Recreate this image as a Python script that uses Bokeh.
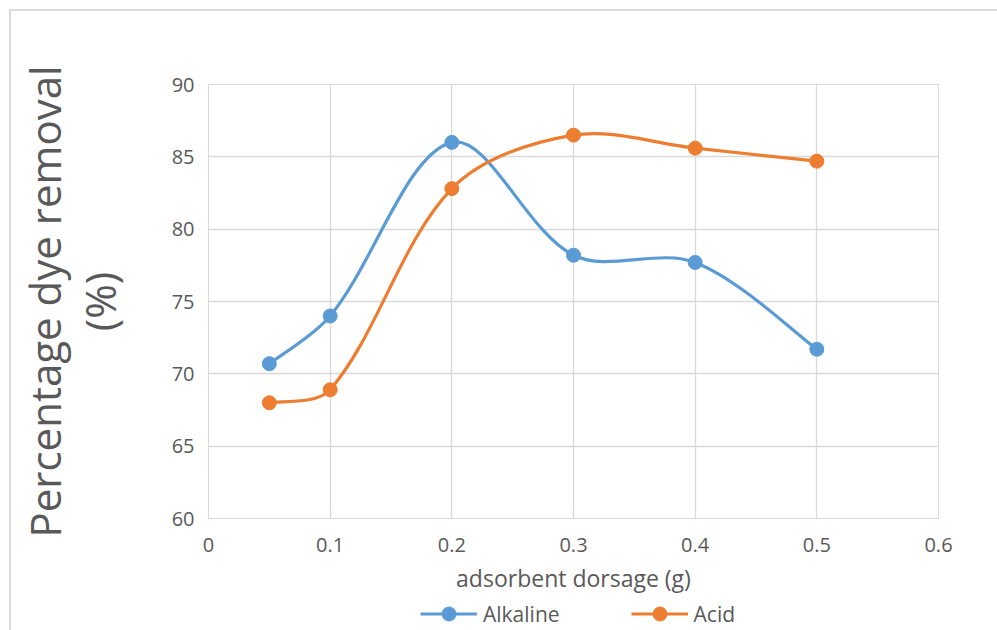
from bokeh.plotting import figure
from bokeh.models import FixedTicker, Legend, LegendItem, LinearAxis
from bokeh.layouts import column
from bokeh.embed import file_html
from bokeh.resources import INLINE

# ---- data ----
dosage = [0.05, 0.1, 0.2, 0.3, 0.4, 0.5]
alkaline = [70.7, 74.0, 86.0, 78.2, 77.7, 71.7]
acid = [68.0, 68.9, 82.8, 86.5, 85.6, 84.7]
x_ticks = [0, 0.1, 0.2, 0.3, 0.4, 0.5, 0.6]
x_tick_labels = ["0", "0.1", "0.2", "0.3", "0.4", "0.5", "0.6"]
y_ticks = [60, 65, 70, 75, 80, 85, 90]
series_names = ["Alkaline", "Acid"]

BLUE = "#5B9BD5"
ORANGE = "#ED7D31"
TEXT = "#595959"
GRID = "#d9d9d9"
FONT = "Open Sans"

X0, X1, Y0, Y1 = 0, 0.6, 60, 90
FW, FH = 730, 434

p = figure(frame_width=FW, frame_height=FH, x_range=(X0, X1), y_range=(Y0, Y1),
           output_backend="svg", toolbar_location=None,
           min_border_left=197, min_border_top=73, min_border_right=59,
           min_border_bottom=77)
p.background_fill_color = "white"
p.border_fill_color = "white"
p.outline_line_color = GRID

for ax in (p.xaxis[0], p.yaxis[0]):
    ax.axis_line_color = GRID
    ax.major_tick_line_color = None
    ax.minor_tick_line_color = None
    ax.major_tick_out = 0
    ax.major_tick_in = 0
    ax.major_label_text_color = TEXT
    ax.major_label_text_font = FONT
    ax.major_label_text_font_size = "20px"
    ax.axis_label_text_color = TEXT
    ax.axis_label_text_font = FONT
    ax.axis_label_text_font_style = "normal"

p.xaxis[0].ticker = FixedTicker(ticks=x_ticks)
p.xaxis[0].major_label_overrides = {t: l for t, l in zip(x_ticks, x_tick_labels)}
p.xaxis[0].major_label_standoff = 19
p.xaxis[0].axis_label = "adsorbent dorsage (g)"
p.xaxis[0].axis_label_text_font_size = "23px"
p.xaxis[0].axis_label_standoff = 7

p.yaxis[0].ticker = FixedTicker(ticks=y_ticks)
p.yaxis[0].major_label_standoff = 14
p.yaxis[0].axis_label = "(%)"
p.yaxis[0].axis_label_text_font_size = "42px"
p.yaxis[0].axis_label_standoff = 41

ya2 = LinearAxis(ticker=FixedTicker(ticks=[]), axis_line_color=None,
                 major_tick_line_color=None, minor_tick_line_color=None,
                 major_tick_out=0, major_tick_in=0, major_label_standoff=0,
                 axis_label="Percentage dye removal", axis_label_standoff=-5,
                 axis_label_text_font=FONT, axis_label_text_font_size="42px",
                 axis_label_text_color=TEXT, axis_label_text_font_style="normal")
p.add_layout(ya2, "left")

p.xgrid.grid_line_color = GRID
p.ygrid.grid_line_color = GRID
p.xgrid.grid_line_width = 1.3
p.ygrid.grid_line_width = 1.3


def smooth_segments(xs, ys):
    kx = FW / (X1 - X0)
    ky = FH / (Y1 - Y0)
    px = [x * kx for x in xs]
    py = [y * ky for y in ys]
    n = len(xs)

    def dist(i, j):
        return ((px[j] - px[i]) ** 2 + (py[j] - py[i]) ** 2) ** 0.5

    seg = dict(x0=[], y0=[], x1=[], y1=[], cx0=[], cy0=[], cx1=[], cy1=[])
    for i in range(n - 1):
        d = dist(i, i + 1)
        if i == 0:
            c0x = px[i] + (px[i + 1] - px[i]) / 6
            c0y = py[i] + (py[i + 1] - py[i]) / 6
        else:
            w = d / (dist(i - 1, i) + d) / 3
            c0x = px[i] + (px[i + 1] - px[i - 1]) * w
            c0y = py[i] + (py[i + 1] - py[i - 1]) * w
        if i + 1 == n - 1:
            c1x = px[i + 1] - (px[i + 1] - px[i]) / 6
            c1y = py[i + 1] - (py[i + 1] - py[i]) / 6
        else:
            w = d / (d + dist(i + 1, i + 2)) / 3
            c1x = px[i + 1] - (px[i + 2] - px[i]) * w
            c1y = py[i + 1] - (py[i + 2] - py[i]) * w
        seg["x0"].append(xs[i]); seg["y0"].append(ys[i])
        seg["x1"].append(xs[i + 1]); seg["y1"].append(ys[i + 1])
        seg["cx0"].append(c0x / kx); seg["cy0"].append(c0y / ky)
        seg["cx1"].append(c1x / kx); seg["cy1"].append(c1y / ky)
    return seg


colors = [BLUE, ORANGE]
series = [alkaline, acid]
for vals, col in zip(series, colors):
    s = smooth_segments(dosage, vals)
    p.bezier(line_color=col, line_width=3.2, line_cap="round", **s)
    p.scatter(dosage, vals, size=14, fill_color=col, line_color=col)

# ---- legend strip below the chart (its renderers lie outside its view) ----
lg = figure(width=197 + FW + 59, height=35, x_range=(10, 11), y_range=(0, 1),
            output_backend="svg", toolbar_location=None,
            x_axis_type=None, y_axis_type=None,
            min_border_left=0, min_border_right=0, min_border_top=0,
            min_border_bottom=0)
lg.outline_line_color = None
lg.grid.visible = False
lg.background_fill_color = "white"
lg.border_fill_color = "white"

items = []
for name, vals, col in zip(series_names, series, colors):
    rl = lg.line(x=dosage, y=vals, line_color=col, line_width=3.2)
    rs = lg.scatter(x=dosage, y=vals, size=14, fill_color=col, line_color=col)
    items.append(LegendItem(label=name, renderers=[rl, rs]))

legend = Legend(items=items, orientation="horizontal", location=(212, 0),
                glyph_width=57, glyph_height=35, label_standoff=6, spacing=71,
                padding=0, margin=0, border_line_color=None,
                background_fill_alpha=0, label_text_font=FONT,
                label_text_font_size="21px", label_text_color=TEXT,
                label_height=20)
lg.add_layout(legend, "center")

layout = column(p, lg, spacing=0, margin=(9, 0, 0, 9),
                styles={"border-top": "2px solid #dcdcdc",
                        "border-left": "2px solid #dcdcdc"})

open("out.html", "w").write(file_html(layout, INLINE))
